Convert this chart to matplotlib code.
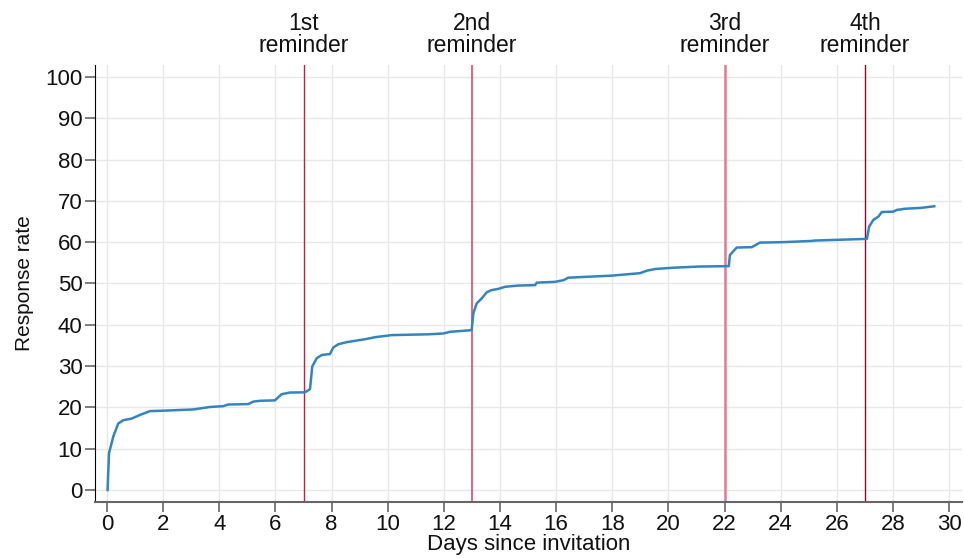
import matplotlib
matplotlib.use("Agg")
import matplotlib.pyplot as plt

plt.rcParams['font.family'] = ['Liberation Sans', 'DejaVu Sans']

days = [0.02, 0.07, 0.23, 0.40, 0.58, 0.88, 1.18, 1.53, 2.0, 3.07, 3.67, 4.14, 4.32,
        5.03, 5.21, 5.45, 5.98, 6.22, 6.52, 7.05, 7.23, 7.31, 7.47, 7.65, 7.94, 8.06,
        8.24, 8.54, 9.19, 9.55, 10.14, 11.45, 11.98, 12.22, 12.99, 13.05, 13.17, 13.35,
        13.53, 13.70, 13.94, 14.18, 14.65, 15.25, 15.31, 15.96, 16.26, 16.43, 17.03,
        17.98, 18.99, 19.23, 19.52, 20.12, 21.07, 22.15, 22.19, 22.43, 22.97, 23.26,
        24.04, 25.10, 25.22, 27.07, 27.15, 27.30, 27.48, 27.60, 28.01, 28.13, 28.43,
        28.99, 29.47]
rate = [0.0, 8.9, 13.1, 16.1, 16.9, 17.3, 18.2, 19.1, 19.2, 19.5, 20.1, 20.3, 20.7,
        20.8, 21.4, 21.6, 21.7, 23.2, 23.6, 23.65, 24.4, 29.9, 31.9, 32.7, 32.9, 34.5,
        35.3, 35.8, 36.5, 37.0, 37.5, 37.7, 37.9, 38.3, 38.7, 42.8, 45.2, 46.4,
        47.9, 48.4, 48.7, 49.2, 49.5, 49.6, 50.2, 50.4, 50.8, 51.4, 51.6,
        51.9, 52.5, 53.1, 53.5, 53.8, 54.1, 54.2, 56.9, 58.7, 58.8, 59.9,
        60.0, 60.3, 60.4, 60.8, 63.8, 65.4, 66.2, 67.3, 67.4, 67.8, 68.1,
        68.3, 68.7]

reminder_days = [7, 13, 22, 27]
reminder_labels = ["1st\nreminder", "2nd\nreminder", "3rd\nreminder", "4th\nreminder"]
reminder_colors = ['#c41e3a', '#e3486b', '#e07b95', '#8b0a2a']
reminder_widths = [1.0, 1.2, 1.8, 1.0]

xticks = list(range(0, 31, 2))
yticks = list(range(0, 101, 10))

fig = plt.figure(figsize=(9.64, 5.58), dpi=100)
ax = fig.add_axes([0.0985, 0.1004, 0.8995, 0.7831])

ax.set_xlim(-0.43, 30.46)
ax.set_ylim(-2.9, 102.9)
ax.set_xticks(xticks)
ax.set_yticks(yticks)
ax.grid(True, color='#e8e8e8', linewidth=1.0)
ax.set_axisbelow(True)

for d, lab, c, w in zip(reminder_days, reminder_labels, reminder_colors, reminder_widths):
    ax.axvline(d, color=c, linewidth=w, zorder=2)
    ax.annotate(lab, xy=(d, 1.0), xycoords=('data', 'axes fraction'),
                xytext=(0, 6), textcoords='offset points',
                ha='center', va='bottom', fontsize=16.5, linespacing=0.9,
                color='#111111')

ax.plot(days, rate, color='#3484c0', linewidth=1.8, zorder=3)

for s in ['top', 'right']:
    ax.spines[s].set_visible(False)
ax.spines['left'].set_color('#000000')
ax.spines['bottom'].set_color('#666666')
ax.spines['bottom'].set_linewidth(1.5)
ax.tick_params(axis='both', direction='out', length=7, width=1.2, color='#666666',
               labelsize=16, labelcolor='#111111', pad=2)

ax.set_xlabel("Days since invitation", fontsize=16, labelpad=-1, color='#111111')
ax.set_ylabel("Response rate", fontsize=15, labelpad=8, color='#111111')

fig.savefig("out.png", dpi=100)
